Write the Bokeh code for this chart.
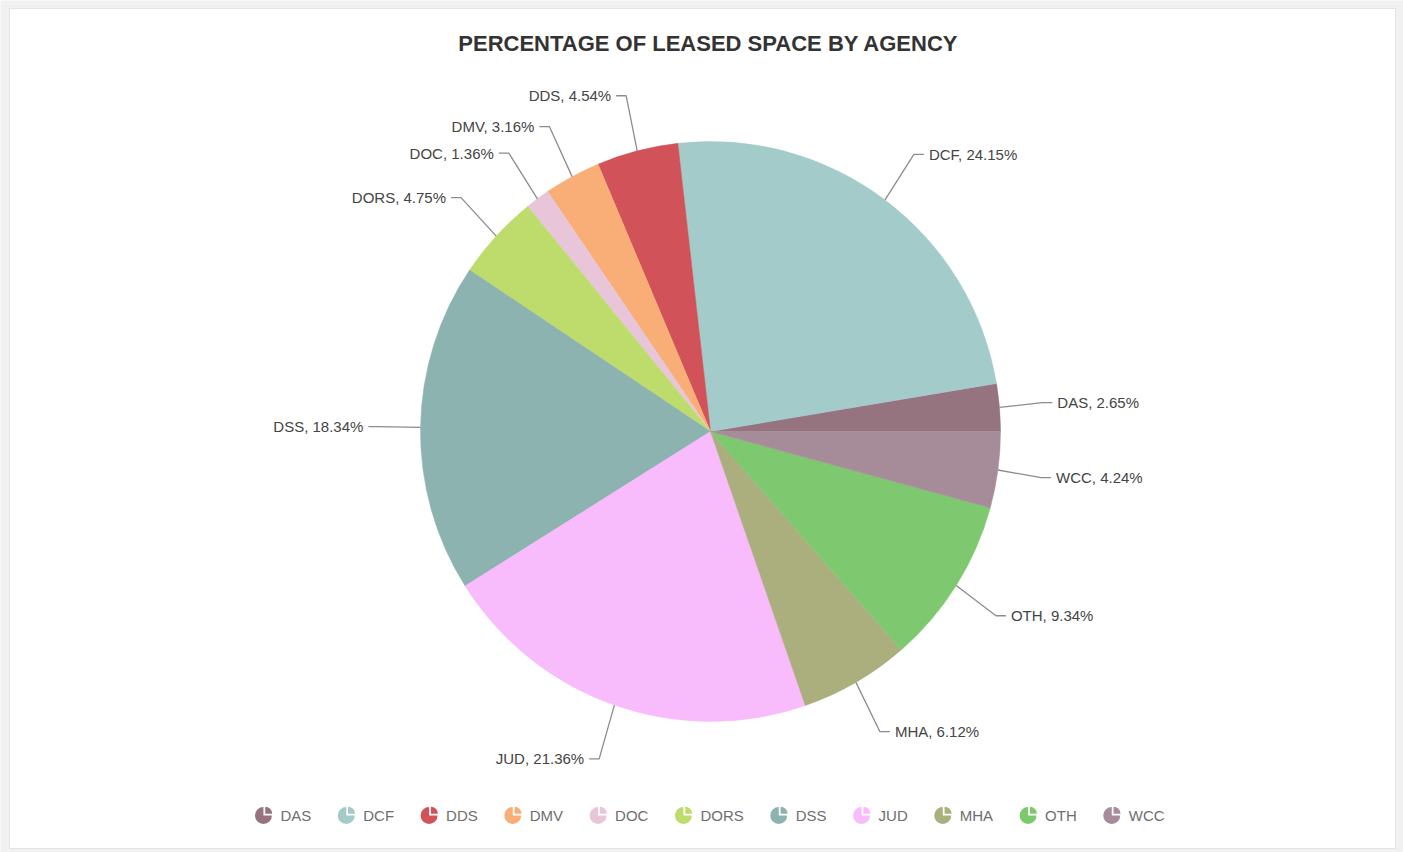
import math
from bokeh.plotting import figure
from bokeh.models import ColumnDataSource, Range1d
from bokeh.embed import file_html
from bokeh.resources import INLINE
from bokeh.core.properties import value

# ---- data ----
agencies = ["DAS", "DCF", "DDS", "DMV", "DOC", "DORS", "DSS", "JUD", "MHA", "OTH", "WCC"]
shares = [2.65, 24.15, 4.54, 3.16, 1.36, 4.75, 18.34, 21.36, 6.12, 9.34, 4.24]
colors = ["#95737f", "#a2cbc9", "#d15259", "#f9ae78", "#e9c5d9", "#bedc6b",
          "#8db3b0", "#f8bbfb", "#abae7d", "#7ec870", "#a68c98"]
title_text = "PERCENTAGE OF LEASED SPACE BY AGENCY"

# ---- layout constants ----
W, H = 1403, 852
CX, CY = 710, H - 431
R = 290
LABEL_R = 347
FONT = "Liberation Sans"

# Arial / Liberation Sans advance widths (em) for legend layout
CHAR_W = {"A": .667, "C": .722, "D": .722, "F": .611, "H": .722, "J": .5, "M": .833,
          "O": .778, "R": .722, "S": .667, "T": .611, "U": .722, "V": .667, "W": .944}

p = figure(width=W, height=H, x_range=Range1d(0, W), y_range=Range1d(0, H),
           output_backend="svg", toolbar_location=None, min_border=0,
           x_axis_location=None, y_axis_location=None)
p.grid.visible = False
p.outline_line_color = None
p.background_fill_color = "#f1f1f1"
p.border_fill_color = "#f1f1f1"

# card
p.quad(left=9, right=1395, bottom=H - 848, top=H - 8, fill_color="white",
       line_color="#e3e3e3", line_width=1)

# title
p.text(x=[CX - 2], y=[H - 43], text=[title_text], text_font=value(FONT),
       text_font_size="22px", text_font_style="bold", text_color="#333333",
       text_align="center", text_baseline="middle")

# pie
total = sum(shares)
starts, ends, mids = [], [], []
cum = 0.0
for s in shares:
    a0 = 2 * math.pi * cum / total
    cum += s
    a1 = 2 * math.pi * cum / total
    starts.append(a0)
    ends.append(a1)
    mids.append((a0 + a1) / 2)

src = ColumnDataSource(dict(start=starts, end=ends, color=colors, name=agencies))
p.wedge(x=CX, y=CY, radius=R, start_angle="start", end_angle="end",
        fill_color="color", line_color="color", line_width=0.5, source=src)

# data labels with connectors
xs, ys = [], []
lx_r, ly_r, lt_r = [], [], []
lx_l, ly_l, lt_l = [], [], []
for name, s, a in zip(agencies, shares, mids):
    c, sn = math.cos(a), math.sin(a)
    sign = 1 if c >= 0 else -1
    ly = CY + LABEL_R * sn
    tx = CX + LABEL_R * c + sign * 12 * abs(sn)
    ex, ey = CX + R * c, CY + R * sn
    elbow = tx - sign * 15
    hend = tx - sign * 5
    xs.append([ex, elbow, hend])
    ys.append([ey, ly, ly])
    label = f"{name}, {s:.2f}%"
    if sign > 0:
        lx_r.append(tx); ly_r.append(ly); lt_r.append(label)
    else:
        lx_l.append(tx); ly_l.append(ly); lt_l.append(label)

p.multi_line(xs=xs, ys=ys, line_color="#8c8c8c", line_width=1.3)
p.text(x=lx_r, y=ly_r, text=lt_r, text_font=value(FONT), text_font_size="15px",
       text_color="#444444", text_align="left", text_baseline="middle")
p.text(x=lx_l, y=ly_l, text=lt_l, text_font=value(FONT), text_font_size="15px",
       text_color="#444444", text_align="right", text_baseline="middle")

# legend
LEG_Y = H - 815
ICON_W = 26
GAP = 26
tw = [15 * sum(CHAR_W[ch] for ch in n) for n in agencies]
items = [ICON_W + w for w in tw]
span = sum(items) + GAP * (len(items) - 1)
x0 = 709 - span / 2
icon_x, text_x = [], []
for it in items:
    icon_x.append(x0 + 9)
    text_x.append(x0 + ICON_W)
    x0 += it + GAP

leg = ColumnDataSource(dict(x=icon_x, xq=[v + 1.8 for v in icon_x], tx=text_x,
                            color=colors, name=agencies))
p.wedge(x="x", y=LEG_Y, radius=8.5, start_angle=math.pi / 2, end_angle=2 * math.pi,
        fill_color="color", line_color=None, source=leg)
p.wedge(x="xq", y=LEG_Y + 1.8, radius=7, start_angle=0, end_angle=math.pi / 2,
        fill_color="color", line_color=None, source=leg)
p.text(x="tx", y=LEG_Y, text="name", text_font=value(FONT), text_font_size="15px",
       text_color="#6e6e6e", text_align="left", text_baseline="middle", source=leg)

open("out.html", "w").write(file_html(p, INLINE))
